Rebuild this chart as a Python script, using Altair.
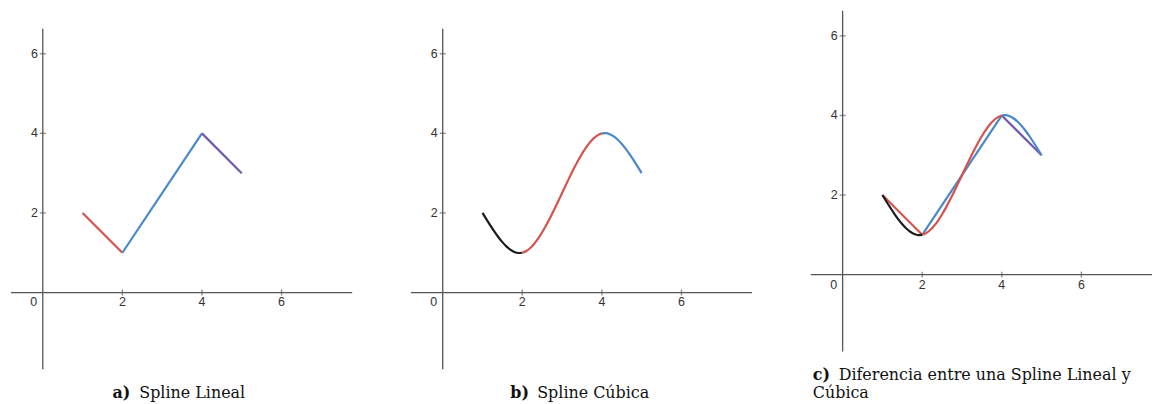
import altair as alt
import pandas as pd

# Interpolation nodes
node_x = [1, 2, 4, 5]
node_y = [2, 1, 4, 3]

# Cubic spline, sampled on each interval
cub1_x = [1.0, 1.1, 1.2, 1.3, 1.4, 1.5, 1.6, 1.7, 1.8, 1.9, 2.0]
cub1_y = [2.0, 1.838, 1.68, 1.529, 1.39, 1.266, 1.16, 1.077, 1.02, 0.993, 1.0]
cub2_x = [2.0, 2.1, 2.2, 2.3, 2.4, 2.5, 2.6, 2.7, 2.8, 2.9, 3.0,
          3.1, 3.2, 3.3, 3.4, 3.5, 3.6, 3.7, 3.8, 3.9, 4.0]
cub2_y = [1.0, 1.043, 1.12, 1.227, 1.36, 1.516, 1.69, 1.879, 2.08, 2.288, 2.5,
          2.712, 2.92, 3.121, 3.31, 3.484, 3.64, 3.773, 3.88, 3.957, 4.0]
cub3_x = [4.0, 4.1, 4.2, 4.3, 4.4, 4.5, 4.6, 4.7, 4.8, 4.9, 5.0]
cub3_y = [4.0, 4.007, 3.98, 3.923, 3.84, 3.734, 3.61, 3.471, 3.32, 3.162, 3.0]

linear_colors = ["#d5534c", "#4a88c9", "#7159ad"]
cubic_colors = ["#1c1c1c", "#d5534c", "#4a88c9"]

tick_vals = [2, 4, 6]
tick_text = ["2", "4", "6"]

X_DOMAIN = [-0.8, 7.775]
AXIS_TOP = 6.63
AXIS_BOTTOM = -1.93
W, H = 343, 404
AXIS_COLOR = "#555555"
LABEL_FONT = "Liberation Sans"
LABEL_SIZE = 12.5
CAP_FONT = "DejaVu Serif"
CAP_SIZE = 16


def panel(y_domain, linear, cubic, captions):
    xs = alt.Scale(domain=X_DOMAIN, nice=False, zero=False)
    ys = alt.Scale(domain=y_domain, nice=False, zero=False)

    def X(f="x"):
        return alt.X(f"{f}:Q", scale=xs, axis=None)

    def Y(f="y"):
        return alt.Y(f"{f}:Q", scale=ys, axis=None)

    layers = []

    # axes through the origin
    xaxis = pd.DataFrame({"x": [X_DOMAIN[0]], "x2": [X_DOMAIN[1]], "y": [0]})
    layers.append(alt.Chart(xaxis).mark_rule(color=AXIS_COLOR, strokeWidth=1.3)
                  .encode(x=X(), x2="x2:Q", y=Y()))
    yaxis = pd.DataFrame({"x": [0], "y": [AXIS_BOTTOM], "y2": [AXIS_TOP]})
    layers.append(alt.Chart(yaxis).mark_rule(color=AXIS_COLOR, strokeWidth=1.3)
                  .encode(x=X(), y=Y(), y2="y2:Q"))

    xt = pd.DataFrame({"x": tick_vals, "y": [0] * 3, "t": tick_text})
    yt = pd.DataFrame({"x": [0] * 3, "y": tick_vals, "t": tick_text})
    layers.append(alt.Chart(xt).mark_tick(orient="vertical", size=6, thickness=1.3,
                                          color=AXIS_COLOR)
                  .encode(x=X(), y=Y()))
    layers.append(alt.Chart(yt).mark_tick(orient="horizontal", size=6, thickness=1.3,
                                          color=AXIS_COLOR)
                  .encode(x=X(), y=Y()))
    layers.append(alt.Chart(xt).mark_text(font=LABEL_FONT, fontSize=LABEL_SIZE, color="#333",
                                          baseline="middle", dy=10)
                  .encode(x=X(), y=Y(), text="t:N"))
    layers.append(alt.Chart(yt).mark_text(font=LABEL_FONT, fontSize=LABEL_SIZE, color="#333",
                                          align="right", baseline="middle", dx=-5)
                  .encode(x=X(), y=Y(), text="t:N"))
    origin = pd.DataFrame({"x": [0], "y": [0], "t": ["0"]})
    layers.append(alt.Chart(origin).mark_text(font=LABEL_FONT, fontSize=LABEL_SIZE, color="#333",
                                              baseline="middle", dx=-9, dy=10)
                  .encode(x=X(), y=Y(), text="t:N"))

    if linear:
        for i in range(3):
            seg = pd.DataFrame({"x": node_x[i:i + 2], "y": node_y[i:i + 2]})
            layers.append(alt.Chart(seg).mark_line(color=linear_colors[i], strokeWidth=2.2)
                          .encode(x=X(), y=Y()))
    if cubic:
        for i, (cx, cy) in enumerate([(cub1_x, cub1_y), (cub2_x, cub2_y), (cub3_x, cub3_y)]):
            seg = pd.DataFrame({"x": cx, "y": cy})
            layers.append(alt.Chart(seg).mark_line(color=cubic_colors[i], strokeWidth=2.2,
                                                   interpolate="monotone")
                          .encode(x=X(), y=Y()))

    for (bold, rest, px, py, gap) in captions:
        if bold:
            layers.append(alt.Chart(origin).mark_text(font=CAP_FONT, fontSize=CAP_SIZE,
                                                      fontWeight="bold", align="left",
                                                      baseline="alphabetic", color="#111",
                                                      text=bold)
                          .encode(x=alt.value(px), y=alt.value(py)))
        layers.append(alt.Chart(origin).mark_text(font=CAP_FONT, fontSize=CAP_SIZE,
                                                  align="left", baseline="alphabetic",
                                                  color="#111", text=rest)
                      .encode(x=alt.value(px + gap), y=alt.value(py)))

    return alt.layer(*layers).properties(width=W, height=H)


pa = panel([-2.775, 7.325], True, False, [("a)", "Spline Lineal", 102, 399, 27)])
pb = panel([-2.775, 7.325], False, True, [("b)", "Spline Cúbica", 100, 399, 27)])
pc = panel([-3.225, 6.875], True, True,
           [("c)", "Diferencia entre una Spline Lineal y", 2, 381, 26),
            ("", "Cúbica", 2, 399, 0)])

chart = alt.hconcat(pa, pb, pc, spacing=57).properties(
    padding={"left": 10, "top": 0, "right": 3, "bottom": 0}
).configure_view(stroke=None)

chart.save("out.html", embed_options={"renderer": "svg", "actions": False})
